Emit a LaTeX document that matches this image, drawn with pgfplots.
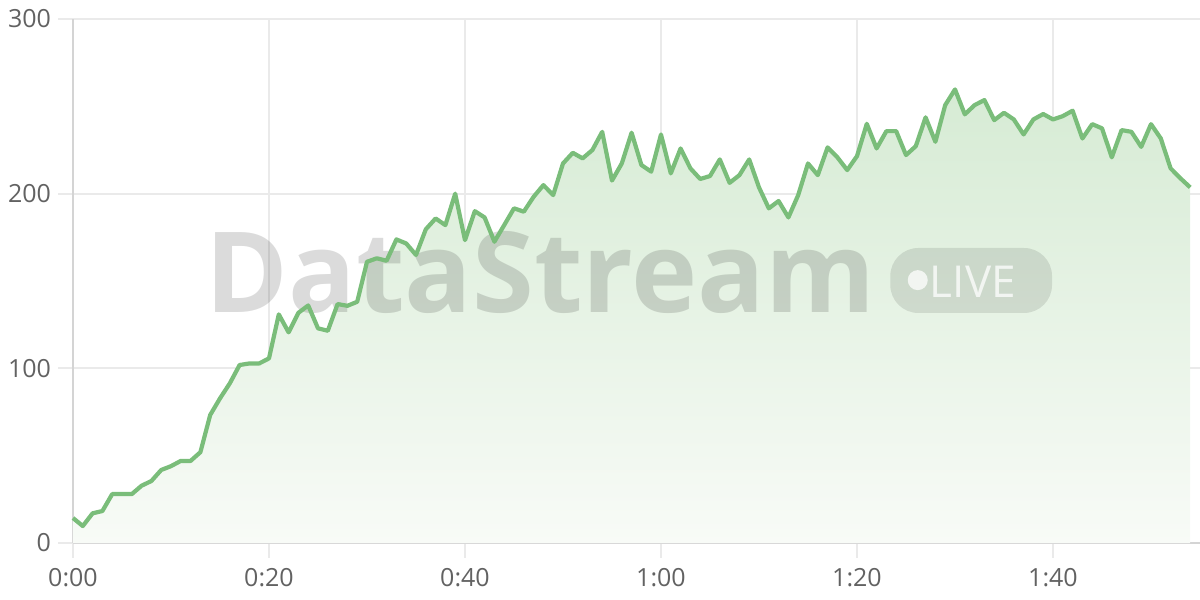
\documentclass[border=0pt]{standalone}
\usepackage{fontspec}
\setmainfont{Open Sans}
\usepackage{pgfplots}
\usepackage{pgfplotstable}
\pgfplotsset{compat=1.18}
\definecolor{linegreen}{RGB}{122,189,122}
\definecolor{gridgray}{RGB}{234,234,234}
\definecolor{axisgray}{RGB}{212,212,212}
\definecolor{ticklab}{RGB}{98,98,98}
\definecolor{filltop}{RGB}{214,235,212}
\definecolor{fillbot}{RGB}{248,251,247}
\pgfplotstableread{
t v
0 14.3
1 9.7
2 17
3 18.3
4 28
5 28
6 28
7 32.8
8 35.5
9 41.8
10 44
11 47
12 47
13 52
14 73.3
15 82.8
16 91.4
17 101.9
18 102.8
19 102.8
20 105.7
21 130.9
22 120.6
23 131.8
24 136
25 122.9
26 121.5
27 136.8
28 135.8
29 138.1
30 161
31 163
32 161.6
33 173.8
34 171.5
35 164.9
36 179.6
37 185.8
38 182
39 200
40 173.4
41 190
42 186.4
43 172.5
44 182
45 191.6
46 189.7
47 198.2
48 204.9
49 199.2
50 217.3
51 223.4
52 220.2
53 225
54 235.4
55 207.5
56 217.3
57 234.9
58 216.4
59 212.6
60 233.9
61 211.6
62 225.9
63 214.5
64 208.4
65 210.1
66 219.6
67 206.2
68 210.6
69 219.6
70 203.6
71 191.6
72 195.8
73 186.4
74 199.2
75 217.3
76 210.6
77 226.5
78 220.8
79 213.5
80 221.5
81 240
82 225.9
83 235.8
84 235.8
85 222.1
86 227.2
87 243.7
88 229.7
89 250.7
90 259.7
91 245.4
92 250.7
93 253.6
94 242.1
95 246.3
96 242.5
97 233.9
98 242.5
99 245.6
100 242.5
101 244.4
102 247.5
103 231.6
104 239.8
105 237.4
106 220.8
107 236.4
108 235.4
109 226.8
110 239.8
111 231.6
112 214.5
113 208.8
114 203.6
}\datatable
\begin{document}
\begin{tikzpicture}
\begin{axis}[
  scale only axis, width=563.5pt, height=262pt,
  xmin=0, xmax=115, ymin=0, ymax=300,
  axis x line*=bottom, axis y line*=left,
  axis line style={axisgray, line width=1pt},
  xtick={0,20,40,60,80,100},
  xticklabels={0:00,0:20,0:40,1:00,1:20,1:40},
  ytick={0,100,200,300},
  grid=major, major grid style={gridgray, line width=1pt},
  tick align=outside, major tick length=7.5pt,
  tick style={gridgray, line width=1pt},
  ticklabel style={font=\fontsize{12.5}{14}\selectfont, text=ticklab},
  xticklabel style={yshift=-1.5pt},
  /pgf/number format/assume math mode=true,
  clip=false,
]
\addplot[draw=none, top color=filltop, bottom color=fillbot] table[x=t, y=v] {\datatable} \closedcycle;
\node[inner sep=0pt, anchor=base west, text=black, text opacity=0.14,
      font=\fontsize{56}{60}\selectfont\bfseries] at (axis cs:13.5,132.2) {DataStream};
\fill[black, opacity=0.10, rounded corners=14pt] (axis cs:83.4,131.7) rectangle (axis cs:99.9,168.9);
\fill[white, opacity=0.75] (axis cs:86.2,150.5) circle[radius=5pt];
\node[inner sep=0pt, anchor=base west, text=white, text opacity=0.75,
      font=\fontsize{22}{24}\selectfont] at (axis cs:87.4,140.7) {LIVE};
\addplot[linegreen, line width=2.1pt, line join=round] table[x=t, y=v] {\datatable};
\end{axis}
\pgfresetboundingbox
\useasboundingbox (-36.5pt,-28.5pt) rectangle (563.5pt,271.5pt);
\end{tikzpicture}
\end{document}
